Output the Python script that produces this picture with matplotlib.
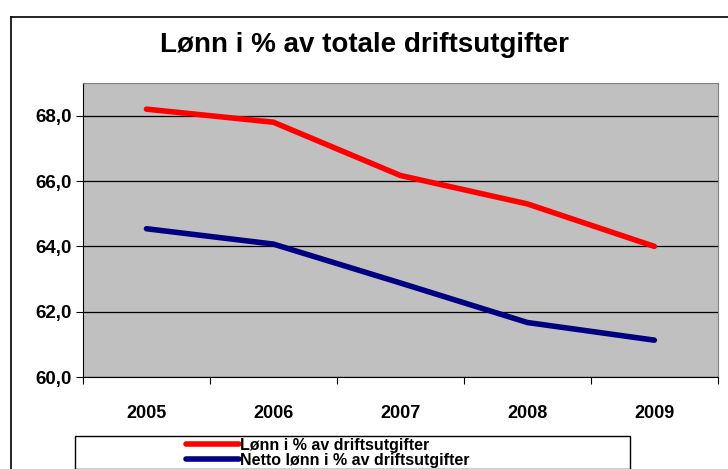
import matplotlib
matplotlib.use("Agg")
import matplotlib.pyplot as plt
from matplotlib.patches import Rectangle
from matplotlib.lines import Line2D
from matplotlib.ticker import FuncFormatter, FixedLocator

plt.rcParams['font.family'] = ['Liberation Sans', 'DejaVu Sans']

years = ['2005', '2006', '2007', '2008', '2009']
lonn = [68.2, 67.8, 66.17, 65.3, 64.0]
netto_lonn = [64.54, 64.07, 62.88, 61.67, 61.13]
labels = ['Lønn i % av driftsutgifter', 'Netto lønn i % av driftsutgifter']

fig = plt.figure(figsize=(7.28, 4.69), dpi=100)

# outer chart border (right/bottom run off the picture)
fig.add_artist(Line2D([0.015, 0.015], [0.0, 0.964], color='black', lw=1.2, transform=fig.transFigure))
fig.add_artist(Line2D([0.015, 1.0], [0.964, 0.964], color='black', lw=1.2, transform=fig.transFigure))

ax = fig.add_axes([0.114, 0.196, 0.872, 0.627])
ax.set_facecolor('#c0c0c0')

x = list(range(len(years)))
ax.plot(x, lonn, color='#ff0000', lw=4, solid_capstyle='round', zorder=3)
ax.plot(x, netto_lonn, color='#000080', lw=4, solid_capstyle='round', zorder=3)

ax.set_xlim(-0.5, len(years) - 0.5)
ax.set_ylim(60, 69)
ax.set_yticks([60, 62, 64, 66, 68])
ax.yaxis.set_major_formatter(FuncFormatter(lambda v, p: f'{v:.1f}'.replace('.', ',')))
ax.grid(axis='y', color='black', lw=0.9)
ax.set_axisbelow(True)

# category ticks at bin boundaries, labels at centres
ax.xaxis.set_major_locator(FixedLocator([i - 0.5 for i in range(len(years) + 1)]))
ax.xaxis.set_major_formatter(FuncFormatter(lambda v, p: ''))
ax.xaxis.set_minor_locator(FixedLocator(x))
ax.set_xticklabels(years, minor=True)
ax.tick_params(axis='x', which='minor', length=0, pad=20, labelsize=13)
ax.tick_params(axis='x', which='major', length=5, direction='out')
ax.tick_params(axis='y', length=5, direction='out', labelsize=13.5, pad=3)
for lab in ax.get_xticklabels(minor=True) + ax.get_yticklabels():
    lab.set_fontweight('bold')

for side in ['top', 'right']:
    ax.spines[side].set_color('#808080')
for side in ['left', 'bottom']:
    ax.spines[side].set_color('black')

fig.text(0.5, 0.903, 'Lønn i % av totale driftsutgifter', ha='center', va='center',
         fontsize=20, fontweight='bold')

# legend box (cut off at bottom)
fig.add_artist(Rectangle((75 / 728, 0.0), (630 - 75) / 728, 1 - 436 / 469,
                         transform=fig.transFigure, fill=True, facecolor='white',
                         edgecolor='black', lw=1.0))
handles = [Line2D([], [], color='#ff0000', lw=4, solid_capstyle='round'),
           Line2D([], [], color='#000080', lw=4, solid_capstyle='round')]
fig.legend(handles, labels, loc='center left', bbox_to_anchor=(178 / 728, 1 - 453 / 469),
           frameon=False, prop={'weight': 'bold', 'size': 11.5}, handlelength=3.3,
           handletextpad=0.1, labelspacing=0.0, borderpad=0)

fig.savefig('out.png', dpi=100)
